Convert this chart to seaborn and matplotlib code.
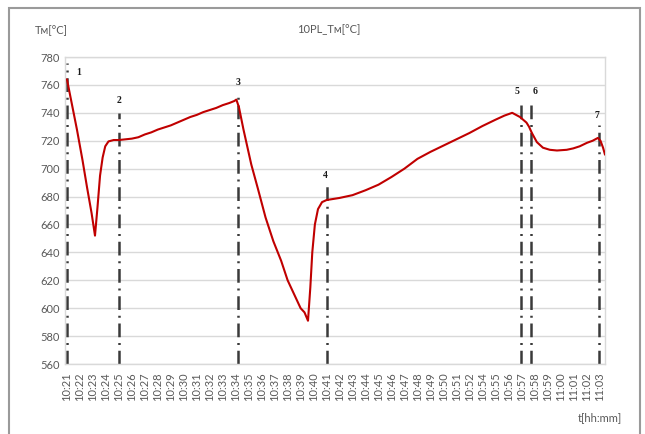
import matplotlib
matplotlib.use("Agg")
import matplotlib.pyplot as plt
from matplotlib.patches import Rectangle
import seaborn as sns
import pandas as pd

# Time axis labels (one label per sampled minute mark)
tick_labels = [
    "10:21", "10:22", "10:23", "10:24", "10:25", "10:26", "10:27", "10:28",
    "10:29", "10:30", "10:31", "10:32", "10:33", "10:34", "10:35", "10:36",
    "10:37", "10:38", "10:39", "10:40", "10:41", "10:42", "10:43", "10:44",
    "10:45", "10:46", "10:47", "10:48", "10:49", "10:50", "10:51", "10:52",
    "10:54", "10:55", "10:56", "10:57", "10:58", "10:59", "11:00", "11:01",
    "11:02", "11:03",
]

# Measured temperature Tм, position given in label-index units
t_pos = [
    0.0, 0.3, 0.77, 1.2, 1.54, 1.9, 2.16,
    2.35, 2.55, 2.75, 2.95, 3.2, 3.6, 4.0, 4.5, 5.0, 5.5, 6.0, 6.5, 7.0,
    7.5, 8.0, 8.5, 9.0, 9.5, 10.0, 10.5, 11.0, 11.5, 12.0, 12.5, 12.9,
    13.05, 13.25,
    13.6, 14.2, 14.7, 15.3, 15.9, 16.5, 17.0, 17.5, 18.0, 18.3, 18.57,
    18.75, 18.9, 19.1, 19.34, 19.65, 20.0, 21.0, 22.0, 23.0, 24.0, 25.0,
    26.0, 27.0, 28.0, 29.0, 30.0, 31.0, 32.0, 33.0, 33.7, 34.3,
    34.9, 35.4, 35.6, 35.82, 36.2, 36.67, 37.2, 37.75, 38.5, 39.0, 39.5,
    40.06, 40.5, 40.9, 41.1, 41.3, 41.45,
]
temp = [
    764, 750, 728, 706, 687, 668, 652,
    672, 695, 708, 716, 719.5, 720.5, 720.5, 721, 721.5, 722.5, 724.5, 726, 728,
    729.5, 731, 733, 735, 737, 738.5, 740.5, 742, 743.5, 745.5, 747, 748.5,
    749.5, 744,
    728, 703, 686, 665, 648, 634, 620, 610, 600, 597, 591,
    615, 640, 660, 671, 676, 677.5, 679, 681, 684.5, 688.5, 694,
    700, 707, 712, 716.5, 721, 725.5, 730.5, 735, 738, 740,
    737, 733, 730, 725.5, 719, 715, 713.5, 713, 713.5, 714.5, 716,
    718.5, 720, 722, 720, 715, 710,
]

# Process events: marker position, top of marker line, label
event_pos = [0.0, 4.0, 13.2, 20.0, 35.0, 35.75, 41.0]
event_top = [776, 740, 755, 690, 747, 747, 731]
event_names = ["1", "2", "3", "4", "5", "6", "7"]

df = pd.DataFrame({"t": t_pos, "T": temp})

sns.set_theme(style="white")
plt.rcParams["font.family"] = ["Lato", "DejaVu Sans"]

W, H = 645, 434
fig = plt.figure(figsize=(W / 100, H / 100), dpi=100)
ax = fig.add_axes([65 / W, 1 - 364 / H, (605 - 65) / W, (364 - 57) / H])

grey_text = "#595959"

# horizontal grid
ax.set_ylim(560, 780)
ax.set_yticks(range(560, 781, 20))
ax.yaxis.grid(True, color="#d9d9d9", lw=1.0)
ax.set_axisbelow(True)

# event marker lines
for x, top, name in zip(event_pos, event_top, event_names):
    ax.plot([x, x], [560, top], color="#3a3a3a", lw=1.8,
            linestyle=(0, (5.5, 2.3, 0.8, 2.3)), zorder=2)

sns.lineplot(data=df, x="t", y="T", ax=ax, color="#c00000", lw=1.5,
             zorder=3, estimator=None, sort=False)

label_off = {"1": (0.9, 769), "2": (0.0, 749), "3": (0.0, 762),
             "4": (-0.1, 695), "5": (-0.35, 755.5), "6": (0.35, 755.5),
             "7": (-0.2, 738)}
for x, name in zip(event_pos, event_names):
    dx, y = label_off[name]
    ax.text(x + dx, y, name, ha="center", va="center", fontsize=7,
            fontweight="bold", family=["Liberation Serif", "DejaVu Serif"],
            color="#1a1a1a", zorder=4)

ax.set_xlim(-0.15, 41.45)
ax.set_xticks(range(len(tick_labels)))
ax.set_xticklabels(tick_labels, rotation=90, fontsize=8, color=grey_text)
ax.tick_params(axis="y", labelsize=8, labelcolor=grey_text, length=0, pad=4)
ax.tick_params(axis="x", length=0, pad=6)
ax.set_xlabel("")
ax.set_ylabel("")

for side in ["top", "right", "bottom", "left"]:
    ax.spines[side].set_color("#d9d9d9")
    ax.spines[side].set_linewidth(1.0)

fig.text(51 / W, 1 - 31 / H, "Tм[°C]", ha="center", va="center",
         fontsize=8, color=grey_text)
fig.text(329 / W, 1 - 30 / H, "10PL_Tм[°C]", ha="center", va="center",
         fontsize=8, color=grey_text)
fig.text(600 / W, 1 - 418 / H, "t[hh:mm]", ha="center", va="center",
         fontsize=8, color=grey_text)

# outer chart frame
fig.patches.append(Rectangle((9 / W, -0.01), 631 / W, 1.01 - 8 / H,
                             transform=fig.transFigure, fill=False,
                             edgecolor="#9a9a9a", lw=1.5))

fig.savefig("out.png", dpi=100)
